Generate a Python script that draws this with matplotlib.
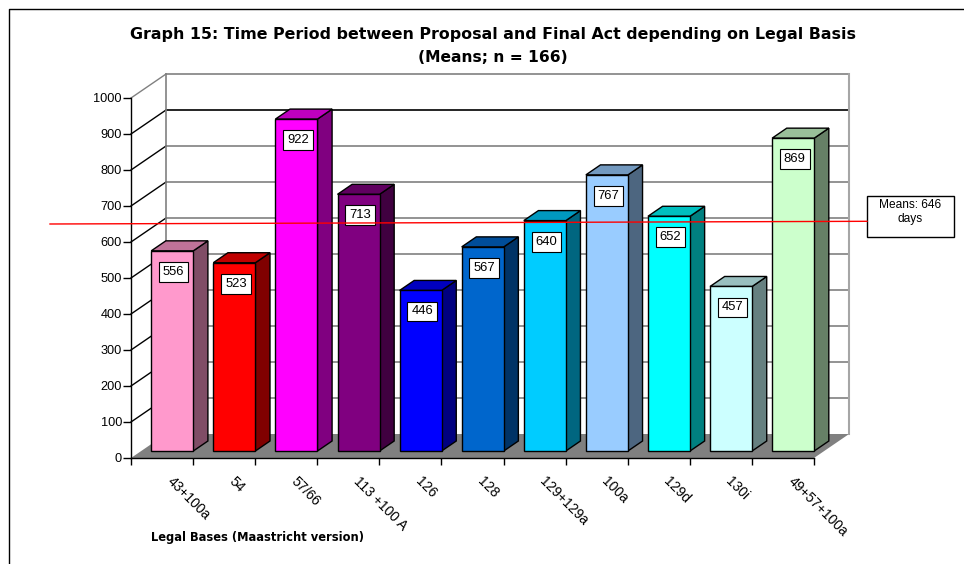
import numpy as np
import matplotlib
matplotlib.use('Agg')
import matplotlib.pyplot as plt
from matplotlib.patches import Rectangle

plt.rcParams['font.family'] = ['Liberation Sans', 'DejaVu Sans']

# mean duration per legal basis
bases = ['43+100a', '54', '57/66', '113 +100 A', '126', '128', '129+129a',
         '100a', '129d', '130i', '49+57+100a']
means = [556, 523, 922, 713, 446, 567, 640, 767, 652, 457, 869]
colors = ['#FF99CC', '#FF0000', '#FF00FF', '#800080', '#0000FF', '#0066CC',
          '#00CCFF', '#99CCFF', '#00FFFF', '#CCFFFF', '#CCFFCC']
y_ticks = [0, 100, 200, 300, 400, 500, 600, 700, 800, 900, 1000]

W, H = 964, 564
n = len(bases)

fig = plt.figure(figsize=(W / 100, H / 100), dpi=100)
ax = fig.add_axes([131 / W, 1 - 458 / H, 683 / W, 360 / H])
ax.set_xlim(0, n)
ax.set_ylim(0, 1000)

# oblique depth of the box, in data units per unit of depth
depth_x = 35 / 62
depth_y = 24 / 0.36


def px(x, y, d):
    return x + d * depth_x, y + d * depth_y


# floor
corners = [px(0, 0, 0), px(n, 0, 0), px(n, 0, 1), px(0, 0, 1)]
ax.fill(*zip(*corners), color='#808080', lw=0, zorder=1, clip_on=False)

# back wall and left wall
for v in y_ticks[1:]:
    back = '#000000' if v == 900 else '#808080'
    side = '#808080' if v == 1000 else '#000000'
    ax.plot(*zip(px(0, v, 1), px(n, v, 1)), color=back, lw=1.2, zorder=1, clip_on=False)
    ax.plot(*zip(px(0, v, 0), px(0, v, 1)), color=side, lw=1, zorder=1, clip_on=False)
ax.plot(*zip(px(0, 0, 1), px(0, 1000, 1)), color='#808080', lw=1.2, zorder=1, clip_on=False)
ax.plot(*zip(px(n, 0, 1), px(n, 1000, 1)), color='#A6A6A6', lw=1.5, zorder=1, clip_on=False)

# 3d bars
d0, d1 = 7 / 24, 17 / 24
w = 42 / 62
for i, (v, c) in enumerate(zip(means, colors)):
    x0 = i + 10 / 62
    x1 = x0 + w
    rgb = np.array(matplotlib.colors.to_rgb(c))
    side = [px(x1, 0, d0), px(x1, 0, d1), px(x1, v, d1), px(x1, v, d0)]
    top = [px(x0, v, d0), px(x1, v, d0), px(x1, v, d1), px(x0, v, d1)]
    ax.fill(*zip(*side), fc=rgb * 0.5, ec='black', lw=1, zorder=3, clip_on=False)
    ax.fill(*zip(*top), fc=rgb * 0.75, ec='black', lw=1, zorder=3, clip_on=False)
    ax.bar(px(x0, 0, d0)[0], v, width=w, bottom=d0 * depth_y, align='edge',
           color=c, edgecolor='black', lw=1, zorder=4, clip_on=False)
    ax.annotate(str(v), (px(x0 + w / 2, v, d0)), xytext=(1.5, -21), textcoords='offset pixels',
                ha='center', va='center', fontsize=9.4, zorder=5,
                bbox=dict(boxstyle='square,pad=0.3', fc='white', ec='black', lw=0.8))

# axes
for s in ['top', 'right']:
    ax.spines[s].set_visible(False)
ax.patch.set_visible(False)
for s in ['left', 'bottom']:
    ax.spines[s].set_linewidth(1)
    ax.spines[s].set_zorder(2)
ax.set_yticks(y_ticks)
ax.set_xticks(range(n + 1))
ax.set_xticklabels([])
ax.tick_params(axis='y', length=5.5, width=1, labelsize=9.2, pad=1)
ax.tick_params(axis='x', length=5, width=1)

for i, name in enumerate(bases):
    ax.annotate(name, (i + 1, 0), xytext=(-24, -21), textcoords='offset pixels',
                rotation=-45, rotation_mode='anchor', ha='left', va='center',
                fontsize=10, annotation_clip=False)

fig.text(493 / W, 1 - 34 / H, 'Graph 15: Time Period between Proposal and Final Act depending on Legal Basis',
         ha='center', va='center', fontsize=11.4, fontweight='bold', family='DejaVu Sans')
fig.text(493 / W, 1 - 57 / H, '(Means; n = 166)', ha='center', va='center',
         fontsize=11.2, fontweight='bold', family='DejaVu Sans')
fig.text(151 / W, 1 - 538 / H, 'Legal Bases (Maastricht version)', ha='left', va='center',
         fontsize=8.3, fontweight='bold', family='DejaVu Sans')

# hand-placed mean line and callout on top of the chart
fig.add_artist(plt.Line2D([50 / W, 867 / W], [1 - 224 / H, 1 - 221.3 / H], color='#FF0000', lw=1))
fig.add_artist(Rectangle((867 / W, 1 - 237 / H), 87 / W, 41 / H, fc='white', ec='black', lw=1,
                         transform=fig.transFigure))
fig.text(910.5 / W, 1 - 212 / H, 'Means: 646\ndays', ha='center', va='center',
         fontsize=8.6, linespacing=1.2)

# outer border, cut off by the page edge
fig.add_artist(plt.Line2D([9 / W, 9 / W, 1], [0, 1 - 9 / H, 1 - 9 / H], color='black', lw=1))

fig.savefig('out.png', dpi=100)
